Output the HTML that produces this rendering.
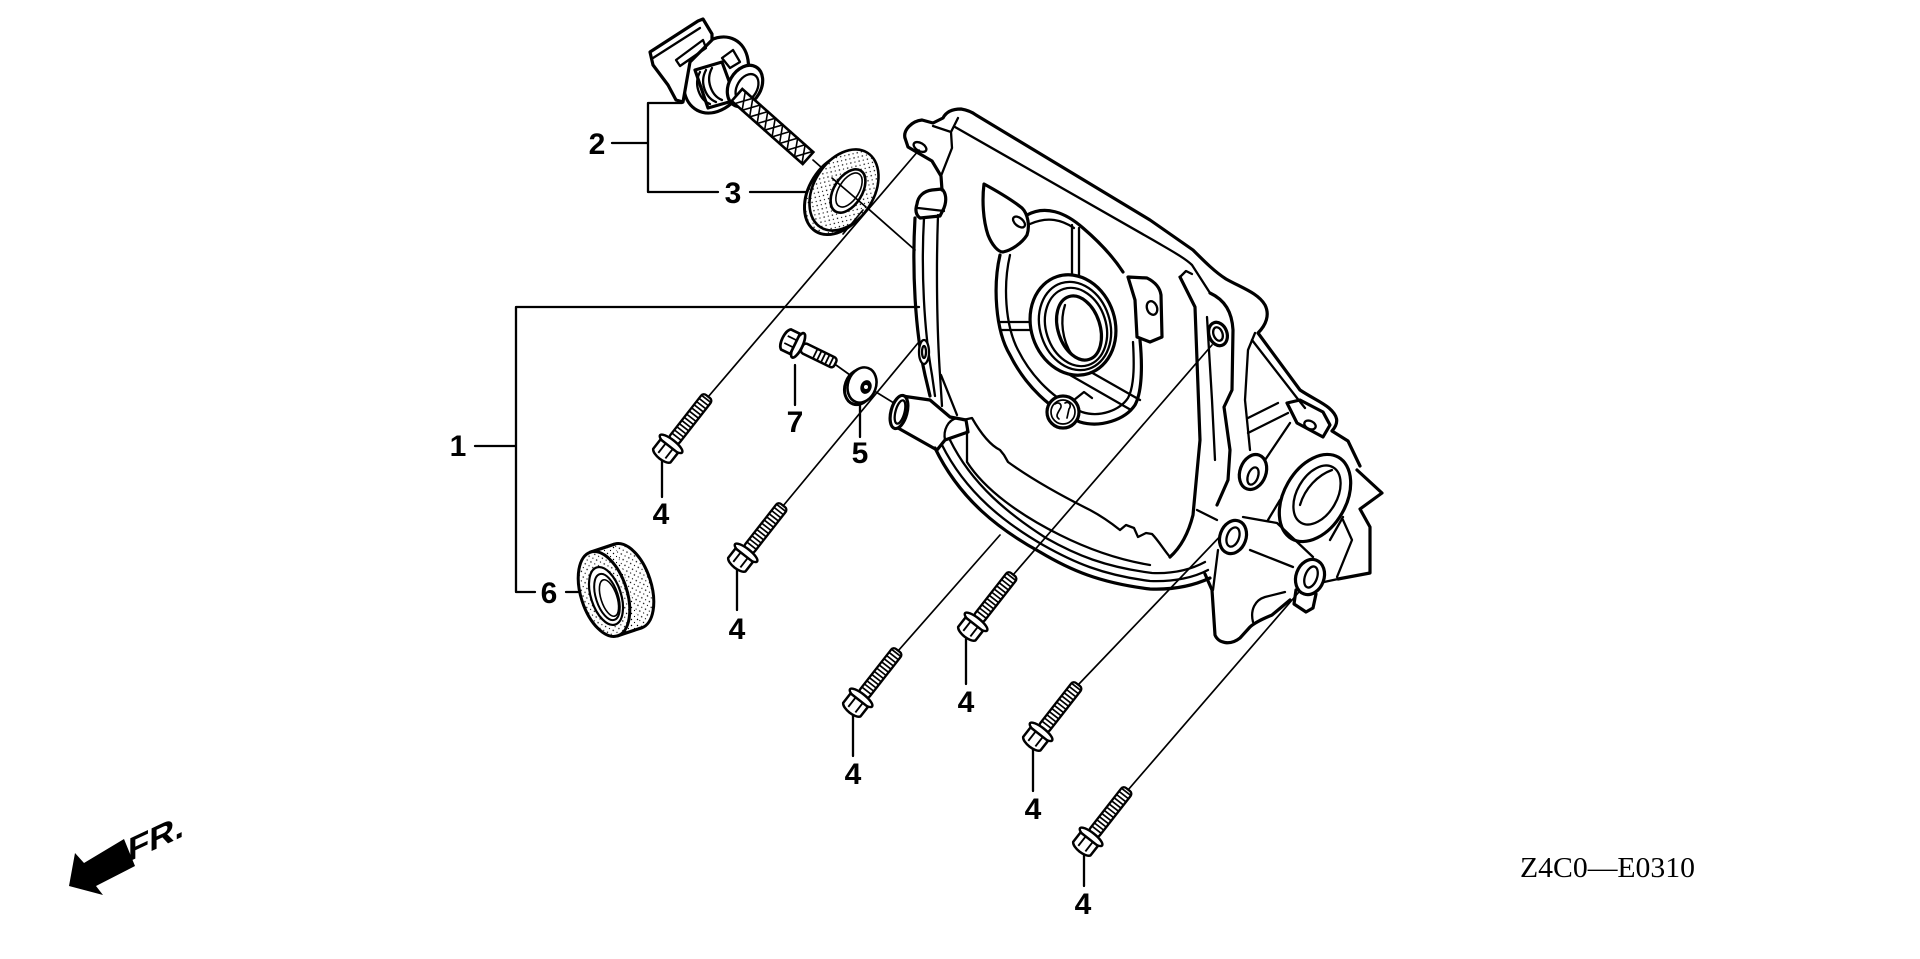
<!DOCTYPE html>
<html><head><meta charset="utf-8">
<style>
html,body{margin:0;padding:0;background:#fff;}
svg{display:block;}
.k{fill:none;stroke:#000;stroke-width:3.2;stroke-linejoin:round;stroke-linecap:round}
.m{fill:none;stroke:#000;stroke-width:2.3;stroke-linejoin:round;stroke-linecap:round}
.t{fill:none;stroke:#000;stroke-width:1.7;stroke-linecap:round}
.w{fill:#fff}
.lb{font-family:"Liberation Sans",sans-serif;font-weight:bold;font-size:30px;text-anchor:middle;fill:#000}
</style></head><body>
<svg width="1920" height="959" viewBox="0 0 1920 959" xmlns="http://www.w3.org/2000/svg">
<defs>
<pattern id="dots" width="6" height="6" patternUnits="userSpaceOnUse">
 <rect width="6" height="6" fill="#fff"/>
 <circle cx="1.5" cy="1.5" r="0.7" fill="#000"/>
 <circle cx="4.5" cy="4.5" r="0.6" fill="#000"/>
</pattern>
<g id="bolt">
 <rect x="21" y="-6" width="57" height="12" rx="3.5" fill="#fff" stroke="#000" stroke-width="2.3"/>
 <path d="M27,-6v12M31,-6v12M35,-6v12M39,-6v12M43,-6v12M47,-6v12M51,-6v12M55,-6v12M59,-6v12M63,-6v12M67,-6v12M71,-6v12M75,-6v12" stroke="#000" stroke-width="1.7"/>
 <ellipse cx="18" cy="0" rx="4.2" ry="14" fill="#fff" stroke="#000" stroke-width="2.5"/>
 <path d="M15,-11 L3,-11 C-2,-8 -2,8 3,11 L15,11 Z" fill="#fff" stroke="#000" stroke-width="2.5" stroke-linejoin="round"/>
 <path d="M3,-4.5 H15 M3,4.5 H15" stroke="#000" stroke-width="1.9"/>
</g>
</defs>

<!-- ============ LEADER LINES ============ -->
<g class="t">
 <path d="M708,397 L919,150"/>
 <path d="M783,506 L918,343"/>
 <path d="M898,651 L1000,535"/>
 <path d="M1013,575 L1212,345"/>
 <path d="M1078,685 L1228,528"/>
 <path d="M1128,790 L1305,585"/>
 <path d="M813,160 L915,250"/>
 <path d="M836,365 L850,375"/>
 <path d="M876,392 L902,408"/>
</g>

<g class="m">
 <path d="M612,143 H648 M648,103 V192 M648,103 H682 M648,192 H718 M750,192 H806"/>
 <path d="M475,446 H516 M516,307 V592 M516,307 H919 M516,592 H535 M566,592 H583"/>
 <path d="M662,461 V497 M737,569 V610 M853,715 V756 M966,639 V684 M1033,749 V791 M1084,854 V886"/>
 <path d="M795,365 V405 M860,403 V437"/>
</g>

<!-- ============ CASE ============ -->
<g>
 <path class="k" d="M905,138 C903,130 912,121 922,120 L933,123 L943,118 C946,112 952,109 961,109 C967,110 972,112 976,115 L1150,220 L1193,250 C1205,262 1215,272 1226,279 C1242,288 1258,293 1265,305 C1270,315 1266,325 1258,333 L1300,390 C1312,398 1322,402 1329,408 C1337,415 1340,422 1332,431 L1348,441 L1360,466"/>
 <path class="k" d="M1357,470 L1382,493 L1360,509 L1370,527 L1370,573 L1338,579"/>
 <path class="k" d="M905,138 L908,147 L932,161 L941,176 L942,190"/>
 <path class="m" d="M933,126 L951,132 L952,148 L941,176 M951,132 L958,118"/>
 <ellipse class="m" cx="920" cy="147" rx="7" ry="4" transform="rotate(30 920 147)"/>
 <path class="m" d="M955,127 L1153,240 C1170,250 1185,258 1192,265 L1210,293"/>
 <path class="k" d="M917,204 C918,196 924,191 932,190 L942,189 C946,193 947,200 944,208 L940,216 L920,218 C916,215 915,210 917,204 Z"/>
 <path class="m" d="M918,208 L944,211"/>
 <path class="k" d="M915,218 C912,270 915,330 925,375 L930,396"/>
 <path class="m" d="M924,218 C921,270 924,330 932,375 L935,396"/>
 <path class="m" d="M938,215 C936,270 937,330 940,375 L942,406 M941,375 L957,415"/>
 <ellipse class="m w" cx="924" cy="352" rx="5" ry="12"/>
 <ellipse class="m" cx="924" cy="352" rx="2" ry="6"/>
 <path class="k w" d="M902,396 L930,400 L950,417 L966,420 L968,432 L945,440 L937,450 L898,428 Z"/>
 <ellipse class="k w" cx="899" cy="412" rx="8" ry="17" transform="rotate(15 899 412)"/>
 <ellipse class="m" cx="900" cy="412" rx="4.5" ry="12" transform="rotate(15 900 412)"/>
 <path class="m" d="M945,440 C943,430 948,420 957,418"/>
 <path class="k" d="M935,448 C960,500 1000,530 1040,552 C1070,570 1100,583 1150,589 C1175,590 1195,585 1210,578"/>
 <path class="m" d="M942,445 C966,493 1005,523 1043,545 C1073,562 1102,575 1150,581 C1175,582 1195,577 1208,570"/>
 <path class="m" d="M950,440 C972,485 1010,515 1046,538 C1076,555 1105,567 1152,573 C1175,574 1192,569 1205,562"/>
 <path class="m" d="M963,420 L972,418 C980,432 990,445 1000,450 L1004,455 L1008,462 C1030,478 1060,495 1090,510 C1105,518 1115,526 1120,530 L1126,525 L1134,528 L1138,537 L1146,533 L1152,534 C1158,540 1164,550 1170,557"/>
 <path class="m" d="M967,430 L967,462 C985,490 1020,515 1060,535 C1090,550 1120,560 1150,565"/>
 <path class="m" d="M1180,277 L1186,271 L1192,274"/>
 <path class="k" d="M1180,277 L1195,307 L1200,440 L1193,515 C1188,535 1180,548 1170,557"/>
 <path class="m" d="M1207,317 L1212,400 L1215,460"/>
 <path class="k" d="M1210,293 C1225,300 1232,312 1233,330 L1232,390 L1224,407 L1230,450 L1228,480 L1217,505"/>
 <ellipse class="k w" cx="1218" cy="334" rx="9" ry="12" transform="rotate(-20 1218 334)"/>
 <ellipse class="m" cx="1218" cy="334" rx="4.5" ry="7" transform="rotate(-20 1218 334)"/>
 <path class="m" d="M1255,333 L1248,350 L1245,400 L1250,450"/>
 <path class="m" d="M1252,340 L1297,398 L1305,408"/>
 <path class="m" d="M1248,418 L1278,403 M1248,433 L1288,413"/>
 <path class="k" d="M1287,403 L1300,400 L1323,412 L1330,425 L1323,437 L1297,423 Z"/>
 <ellipse class="m" cx="1310" cy="425" rx="6" ry="4" transform="rotate(25 1310 425)"/>
 <path class="m" d="M1290,423 L1263,463"/>
 <ellipse class="k w" cx="1253" cy="472" rx="13" ry="18" transform="rotate(20 1253 472)"/>
 <ellipse class="m" cx="1253" cy="476" rx="5" ry="9" transform="rotate(20 1253 476)"/>
 <path class="m" d="M1280,500 L1268,520 M1343,517 L1330,540"/>
 <ellipse class="k w" cx="1315" cy="498" rx="31" ry="47" transform="rotate(30 1315 498)"/>
 <ellipse class="m" cx="1317" cy="495" rx="20" ry="32" transform="rotate(30 1317 495)"/>
 <path class="m" d="M1300,505 C1305,488 1318,475 1332,470"/>
 <path class="m" d="M1243,517 L1277,523 L1313,557 M1250,550 L1293,567 M1197,510 L1217,520 M1218,550 L1213,590"/>
 <ellipse class="k w" cx="1233" cy="537" rx="13" ry="17" transform="rotate(20 1233 537)"/>
 <ellipse class="m" cx="1233" cy="537" rx="6" ry="10" transform="rotate(20 1233 537)"/>
 <ellipse class="k w" cx="1310" cy="577" rx="14" ry="18" transform="rotate(20 1310 577)"/>
 <ellipse class="m" cx="1311" cy="577" rx="6" ry="11" transform="rotate(20 1311 577)"/>
 <path class="k" d="M1296,590 L1294,604 L1306,612 L1313,608 L1316,594"/>
 <path class="m" d="M1338,579 L1324,582 M1343,520 L1352,540 L1337,577"/>
 <path class="k" d="M1205,574 L1212,590 L1215,635 C1218,643 1230,646 1240,638 L1250,627 C1255,622 1265,618 1272,615 L1290,600"/>
 <path class="m" d="M1253,622 C1250,610 1255,600 1265,597 L1285,592"/>
 <path class="k" d="M984,184 C982,200 983,220 988,235 C992,245 998,252 1003,252 C1012,250 1022,243 1027,235 C1030,226 1028,214 1022,208 C1012,200 995,190 984,184 Z"/>
 <ellipse class="m" cx="1019" cy="222" rx="7" ry="4" transform="rotate(40 1019 222)"/>
 <path class="k" d="M1000,255 C993,285 995,330 1010,355 C1025,385 1050,410 1080,422 C1100,428 1125,420 1135,405 C1143,390 1142,360 1140,340"/>
 <path class="m" d="M1010,255 C1003,285 1005,325 1018,350 C1032,378 1055,400 1082,412 C1100,418 1120,410 1128,398 C1135,385 1134,360 1133,342"/>
 <path class="k" d="M1027,215 C1045,205 1065,212 1083,228 C1097,240 1112,255 1123,272"/>
 <path class="m" d="M1030,224 C1048,216 1062,220 1074,228"/>
 <path class="m" d="M1072,225 V282 M1079,228 V280"/>
 <path class="m" d="M1000,322 H1035 M1002,330 H1033"/>
 <path class="m" d="M1070,375 L1131,410 M1082,367 L1140,400"/>
 <path class="k w" d="M1128,277 L1147,278 C1155,282 1160,288 1161,295 L1162,337 L1150,342 L1137,337 L1135,300 Z"/>
 <ellipse class="m" cx="1152" cy="308" rx="5" ry="7" transform="rotate(-20 1152 308)"/>
 <ellipse class="k w" cx="1073" cy="325" rx="42" ry="51" transform="rotate(-18 1073 325)"/>
 <ellipse class="m" cx="1075" cy="326" rx="35" ry="45" transform="rotate(-18 1075 326)"/>
 <ellipse class="m" cx="1076" cy="327" rx="30" ry="40" transform="rotate(-18 1076 327)"/>
 <ellipse class="k" cx="1079" cy="328" rx="21" ry="33" transform="rotate(-18 1079 328)"/>
 <path class="m" d="M1065,305 C1060,320 1062,340 1072,355"/>
 <path class="m" d="M1074,400 L1084,392 L1092,398"/>
 <circle class="k w" cx="1063" cy="412" r="16"/>
 <circle class="t" cx="1063" cy="412" r="12"/>
 <path class="t" d="M1055,404 c4,-3 8,1 5,5 c-2,4 -5,7 -1,10 M1065,403 c4,-2 7,2 4,6 l-2,9"/>
</g>

<!-- ============ DIPSTICK (2) ============ -->
<g>
 <ellipse class="k w" cx="716" cy="75" rx="30" ry="40" transform="rotate(28 716 75)"/>
 <path class="k w" d="M695,70 L722,62 L736,100 L708,108 Z"/>
 <path class="m" d="M700,72 C693,85 700,100 710,104 M706,70 C699,83 706,98 716,102 M712,68 C705,81 712,96 722,100"/>
 <ellipse class="k w" cx="745" cy="86" rx="16" ry="22" transform="rotate(30 745 86)"/>
 <ellipse class="m" cx="747" cy="88" rx="10" ry="15" transform="rotate(30 747 88)"/>
 <path class="m w" d="M722,58 L733,50 L740,62 L730,68 Z"/>
 <path class="k w" d="M650,52 L698,21 L703,19 L712,34 L712,40 L690,62 L683,102 L676,100 L668,85 L653,65 Z"/>
 <path class="m" d="M653,58 L700,28 M676,60 L703,40 L706,48 L680,66 Z"/>
 <g transform="translate(737,95) rotate(41.6)">
  <rect x="0" y="-8" width="95" height="16" fill="#fff" stroke="#000" stroke-width="2.6"/>
  <path d="M4,-8 L14,8 L24,-8 L34,8 L44,-8 L54,8 L64,-8 L74,8 L84,-8 L94,8 M4,8 L14,-8 L24,8 L34,-8 L44,8 L54,-8 L64,8 L74,-8 L84,8 L94,-8" fill="none" stroke="#000" stroke-width="1.6"/>
 </g>
</g>

<!-- ============ WASHER 3 ============ -->
<g>
 <ellipse cx="839" cy="194" rx="30" ry="44" transform="rotate(32 839 194)" fill="url(#dots)" stroke="#000" stroke-width="3"/>
 <ellipse cx="844" cy="190" rx="30" ry="44" transform="rotate(32 844 190)" fill="url(#dots)" stroke="#000" stroke-width="2.6"/>
 <ellipse cx="848" cy="191" rx="14" ry="24" transform="rotate(32 848 191)" fill="#fff" stroke="#000" stroke-width="2.6"/>
 <ellipse cx="849" cy="190" rx="10" ry="19" transform="rotate(32 849 190)" fill="none" stroke="#000" stroke-width="1.6"/>
 <path class="t" d="M832,178 L866,207"/>
 <path class="t" d="M863,210 L843,234"/>
</g>

<!-- ============ SEAL 6 ============ -->
<g>
 <ellipse cx="628" cy="586" rx="23" ry="44" transform="rotate(-18 628 586)" fill="url(#dots)" stroke="#000" stroke-width="3"/>
 <polygon points="590.4,552.2 614.4,544.2 641.6,627.8 617.6,635.8" fill="url(#dots)"/>
 <path class="k" d="M590.4,552.2 L614.4,544.2 M617.6,635.8 L641.6,627.8"/>
 <ellipse cx="604" cy="594" rx="23" ry="44" transform="rotate(-18 604 594)" fill="url(#dots)" stroke="#000" stroke-width="3"/>
 <ellipse cx="606" cy="596" rx="15" ry="30" transform="rotate(-18 606 596)" fill="#fff" stroke="#000" stroke-width="2.2"/>
 <ellipse cx="607" cy="597" rx="11" ry="24" transform="rotate(-18 607 597)" fill="none" stroke="#000" stroke-width="2"/>
 <ellipse cx="609" cy="598" rx="8" ry="19" transform="rotate(-18 609 598)" fill="none" stroke="#000" stroke-width="1.6"/>
</g>

<!-- ============ BOLTS 4 ============ -->
<use href="#bolt" transform="translate(660,458) rotate(-52)"/>
<use href="#bolt" transform="translate(735,567) rotate(-52)"/>
<use href="#bolt" transform="translate(850,712) rotate(-52)"/>
<use href="#bolt" transform="translate(965,636) rotate(-52)"/>
<use href="#bolt" transform="translate(1030,746) rotate(-52)"/>
<use href="#bolt" transform="translate(1080,851) rotate(-52)"/>

<!-- ============ BOLT 7 ============ -->
<g transform="translate(783,338) rotate(26) scale(1.12)">
 <rect x="19" y="-4.8" width="33" height="9.6" rx="3" fill="#fff" stroke="#000" stroke-width="2.2"/>
 <path d="M32,-4.8v9.6M36,-4.8v9.6M40,-4.8v9.6M44,-4.8v9.6M48,-4.8v9.6" stroke="#000" stroke-width="1.6"/>
 <ellipse cx="15" cy="0" rx="3.8" ry="12" fill="#fff" stroke="#000" stroke-width="2.4"/>
 <path d="M12,-10 L3,-10 C-1.5,-7 -1.5,7 3,10 L12,10 Z" fill="#fff" stroke="#000" stroke-width="2.4"/>
 <path d="M3,-3.5 H12 M3,3.5 H12" stroke="#000" stroke-width="1.6"/>
</g>

<!-- ============ WASHER 5 ============ -->
<g>
 <ellipse cx="859" cy="387" rx="14" ry="18" transform="rotate(20 859 387)" fill="#fff" stroke="#000" stroke-width="3"/>
 <ellipse cx="862" cy="385" rx="14" ry="18" transform="rotate(20 862 385)" fill="#fff" stroke="#000" stroke-width="2.6"/>
 <ellipse cx="866" cy="387" rx="5.5" ry="7" transform="rotate(20 866 387)" fill="#000"/>
 <circle cx="866" cy="387" r="2" fill="#fff"/>
</g>

<!-- ============ LABELS ============ -->
<g class="lb">
 <text x="597" y="154">2</text>
 <text x="733" y="203">3</text>
 <text x="458" y="456">1</text>
 <text x="549" y="603">6</text>
 <text x="795" y="432">7</text>
 <text x="860" y="463">5</text>
 <text x="661" y="524">4</text>
 <text x="737" y="639">4</text>
 <text x="853" y="784">4</text>
 <text x="966" y="712">4</text>
 <text x="1033" y="819">4</text>
 <text x="1083" y="914">4</text>
</g>

<!-- ============ FR ARROW ============ -->
<polygon points="124,839 84,863 75,853 69,886 103,895 96,886 135,866" fill="#000"/>
<text transform="translate(128,862) skewY(-25)" font-family="Liberation Sans, sans-serif" font-weight="bold" font-size="33" textLength="56" lengthAdjust="spacingAndGlyphs">FR.</text>

<!-- ============ CODE ============ -->
<text x="1520" y="877" font-family="Liberation Serif, serif" font-size="28" textLength="175" lengthAdjust="spacingAndGlyphs" fill="#000">Z4C0—E0310</text>
</svg>
</body></html>
